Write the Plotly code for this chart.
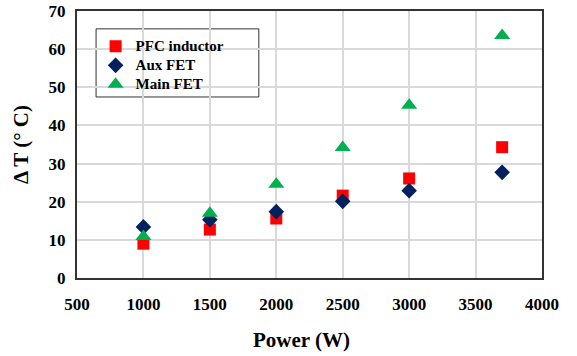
import plotly.graph_objects as go

power = [1000, 1500, 2000, 2500, 3000, 3700]
pfc_inductor = [9.0, 12.7, 15.6, 21.6, 26.1, 34.3]
aux_fet = [13.4, 15.3, 17.4, 20.1, 22.9, 27.7]
main_fet = [10.9, 17.0, 24.6, 34.2, 45.3, 63.6]

x_ticks = [500, 1000, 1500, 2000, 2500, 3000, 3500, 4000]
y_ticks = [0, 10, 20, 30, 40, 50, 60, 70]

font_family = "Liberation Serif"

def lg(name):
    return '<span style="font-size:15px">' + name + '</span>'

fig = go.Figure()
fig.add_trace(go.Scatter(x=power, y=pfc_inductor, mode="markers", name=lg("PFC inductor"),
                         marker=dict(symbol="square", size=12, color="#FF0000")))
fig.add_trace(go.Scatter(x=power, y=aux_fet, mode="markers", name=lg("Aux FET"),
                         marker=dict(symbol="diamond", size=12, color="#002060")))
fig.add_trace(go.Scatter(x=power, y=main_fet, mode="markers", name=lg("Main FET"),
                         marker=dict(symbol="triangle-up", size=14, color="#00B050")))

axis_common = dict(showgrid=True, gridcolor="#d9d9d9", gridwidth=1.5,
                   showline=True, linecolor="#333333", linewidth=2, mirror=True,
                   ticks="", zeroline=False, automargin=False,
                   tickfont=dict(family=font_family, size=17, color="black", weight="bold"))

fig.update_layout(
    width=577, height=356,
    margin=dict(l=77, r=35, t=11, b=78),
    paper_bgcolor="white", plot_bgcolor="white",
    font=dict(family=font_family, color="black"),
    showlegend=True,
    legend=dict(x=0.04, y=0.922, xanchor="left", yanchor="top",
                bgcolor="rgba(0,0,0,0)", borderwidth=0,
                font=dict(family=font_family, size=11.5, color="black", weight="bold"),
                itemwidth=30, tracegroupgap=0),
    xaxis=dict(range=[500, 4000], tickvals=x_ticks, ticklabelstandoff=10,
               **axis_common),
    yaxis=dict(range=[0, 70], tickvals=y_ticks, ticklabelstandoff=6,
               title=dict(text="Δ T (° C)", font=dict(family=font_family, size=21, weight="bold"), standoff=14),
               **axis_common),
    annotations=[dict(text="Power (W)", xref="paper", yref="paper", x=0.483, y=-0.232,
                      xanchor="center", yanchor="middle", showarrow=False,
                      font=dict(family=font_family, size=21, weight="bold", color="black"))],
    shapes=[dict(type="rect", xref="paper", yref="paper", x0=0.041, x1=0.391, y0=0.678, y1=0.933,
                 line=dict(color="#333333", width=1), fillcolor="white", layer="between")],
)

fig.write_html("out.html")
